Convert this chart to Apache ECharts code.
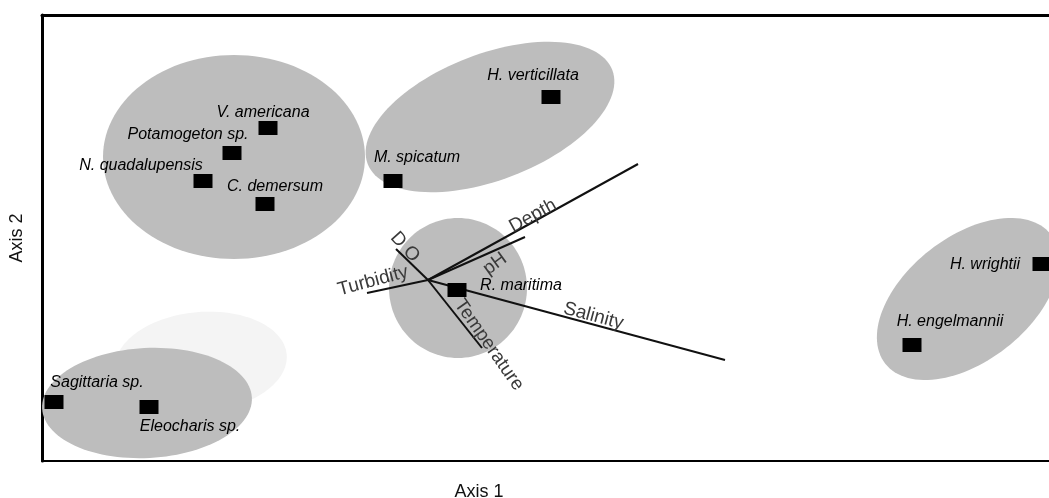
<!DOCTYPE html>
<html>
<head>
<meta charset="utf-8">
<title>Ordination biplot</title>
<script src="https://cdn.jsdelivr.net/npm/echarts@6/dist/echarts.min.js"></script>
<style>
  html, body { margin: 0; padding: 0; background: #ffffff; }
  #chart { width: 1049px; height: 498px; }
</style>
</head>
<body>
<div id="chart"></div>
<script>
// Species scores on the first two ordination axes
const speciesNames = [
  'V. americana', 'Potamogeton sp.', 'N. quadalupensis', 'C. demersum',
  'M. spicatum', 'H. verticillata', 'R. maritima',
  'Sagittaria sp.', 'Eleocharis sp.', 'H. wrightii', 'H. engelmannii'
];
const speciesAxis1 = [-1.60, -1.96, -2.25, -1.63, -0.35, 1.23, 0.29, -3.74, -2.79, 6.14, 4.84];
const speciesAxis2 = [ 1.52,  1.27,  0.99,  0.76,  0.99, 1.83, -0.10, -1.22, -1.27, 0.16, -0.65];

// Environmental variable vectors (tips; all start at the origin)
const variableNames = ['Depth', 'pH', 'D O', 'Temperature', 'Turbidity', 'Salinity'];
const variableAxis1 = [2.10, 0.97, -0.32, 0.54, -0.61, 2.97];
const variableAxis2 = [1.16, 0.43,  0.31, -0.68, -0.13, -0.80];

// Species groupings drawn as ellipses: centre, semi-axes, tilt (degrees)
const groupCentre1 = [-2.27, -1.94, 0.62, 0.30, -2.81, 5.40];
const groupCentre2 = [-0.82,  1.23, 1.63, -0.08, -1.23, -0.19];
const groupSemiA   = [ 0.86,  1.31, 1.31, 0.69, 1.05, 1.05];
const groupSemiB   = [ 0.50,  1.02, 0.63, 0.70, 0.55, 0.62];
const groupTilt    = [ 5, 0, 21, 0, 3, 38];

// Axis extents
const axis1Range = [-3.86, 6.21];
const axis2Range = [-1.81, 2.65];

// ---- presentation ----
const groupFill = ['#f4f4f4', '#bdbdbd', '#bdbdbd', '#bdbdbd', '#bdbdbd', '#bdbdbd'];

// label offsets (px) relative to each species marker
const speciesLabelOffset = {
  'V. americana': [-5, -15],
  'Potamogeton sp.': [-44, -18],
  'N. quadalupensis': [-62, -15],
  'C. demersum': [10, -17],
  'M. spicatum': [24, -23],
  'H. verticillata': [-18, -21],
  'R. maritima': [64, -4],
  'Sagittaria sp.': [43, -19],
  'Eleocharis sp.': [41, 20],
  'H. wrightii': [-57, 1],
  'H. engelmannii': [38, -23]
};

// vector labels: fraction along the arrow, pixel nudge, text angle (deg)
const vectorLabelLayout = {
  'Depth':       { t: 0.5,  dx: 0,  dy: -6,  angle: 29 },
  'pH':          { t: 0.7,  dx: -1, dy: 14,  angle: 36 },
  'D O':         { t: 1.0,  dx: 9,  dy: -2,  angle: -48 },
  'Temperature': { t: 1.0,  dx: 7,  dy: -3,  angle: -55 },
  'Turbidity':   { t: 1.0,  dx: 6,  dy: -12, angle: 15 },
  'Salinity':    { t: 0.55, dx: 2,  dy: -8,  angle: -15 }
};

const groupData = groupCentre1.map((c, i) => [c, groupCentre2[i], groupSemiA[i], groupSemiB[i], groupTilt[i], i]);
const vectorData = variableNames.map((n, i) => ({ name: n, value: [variableAxis1[i], variableAxis2[i]] }));
const speciesData = speciesNames.map((n, i) => ({
  name: n,
  value: [speciesAxis1[i], speciesAxis2[i]],
  label: { offset: speciesLabelOffset[n] }
}));

function renderGroup(params, api) {
  const cx = api.value(0), cy = api.value(1);
  const a = api.value(2), b = api.value(3);
  const tilt = api.value(4) * Math.PI / 180;
  const idx = api.value(5);
  const pts = [];
  const n = 120;
  for (let k = 0; k < n; k++) {
    const phi = 2 * Math.PI * k / n;
    const ex = a * Math.cos(phi), ey = b * Math.sin(phi);
    const x = cx + ex * Math.cos(tilt) - ey * Math.sin(tilt);
    const y = cy + ex * Math.sin(tilt) + ey * Math.cos(tilt);
    pts.push(api.coord([x, y]));
  }
  return {
    type: 'polygon',
    shape: { points: pts },
    style: { fill: groupFill[idx], stroke: null }
  };
}

function renderVector(params, api) {
  const name = variableNames[params.dataIndex];
  const o = api.coord([0, 0]);
  const e = api.coord([api.value(0), api.value(1)]);
  const lay = vectorLabelLayout[name];
  const lx = o[0] + (e[0] - o[0]) * lay.t + lay.dx;
  const ly = o[1] + (e[1] - o[1]) * lay.t + lay.dy;
  return {
    type: 'group',
    children: [
      {
        type: 'line',
        shape: { x1: o[0], y1: o[1], x2: e[0], y2: e[1] },
        style: { stroke: '#111', lineWidth: 2 }
      },
      {
        type: 'text',
        x: lx, y: ly,
        rotation: lay.angle * Math.PI / 180,
        style: {
          text: name,
          font: '19px "Liberation Sans", Arial, sans-serif',
          fill: '#3a3a3a',
          align: 'center',
          verticalAlign: 'middle'
        }
      }
    ]
  };
}

const chart = echarts.init(document.getElementById('chart'), null, { renderer: 'canvas' });

const hiddenAxisBits = {
  axisTick: { show: false },
  axisLabel: { show: false },
  splitLine: { show: false }
};

chart.setOption({
  backgroundColor: '#ffffff',
  animation: false,
  grid: { left: 42, top: 15, right: 0, bottom: 37, containLabel: false, outerBoundsMode: 'none' },
  xAxis: [
    Object.assign({
      type: 'value', position: 'bottom',
      min: axis1Range[0], max: axis1Range[1],
      axisLine: { show: true, onZero: false, lineStyle: { color: '#000', width: 2 } },
      name: 'Axis 1',
      nameLocation: 'middle',
      nameGap: 22,
      nameTextStyle: {
        fontFamily: '"Liberation Sans", Arial, sans-serif',
        fontSize: 18, color: '#111',
        padding: [0, 133, 0, 0]
      }
    }, hiddenAxisBits),
    Object.assign({
      type: 'value', position: 'top',
      min: axis1Range[0], max: axis1Range[1],
      axisLine: { show: true, onZero: false, lineStyle: { color: '#000', width: 3 } }
    }, hiddenAxisBits)
  ],
  yAxis: Object.assign({
    type: 'value',
    min: axis2Range[0], max: axis2Range[1],
    axisLine: { show: true, onZero: false, lineStyle: { color: '#000', width: 3 } },
    name: 'Axis 2',
    nameLocation: 'middle',
    nameGap: 16,
    nameRotate: 90,
    nameTextStyle: {
      fontFamily: '"Liberation Sans", Arial, sans-serif',
      fontSize: 18, color: '#111'
    }
  }, hiddenAxisBits),
  series: [
    {
      type: 'custom',
      name: 'groups',
      coordinateSystem: 'cartesian2d',
      renderItem: renderGroup,
      data: groupData,
      encode: { x: 0, y: 1 },
      clip: false,
      silent: true,
      z: 1
    },
    {
      type: 'custom',
      name: 'variables',
      coordinateSystem: 'cartesian2d',
      renderItem: renderVector,
      data: vectorData,
      encode: { x: 0, y: 1 },
      clip: false,
      silent: true,
      z: 3
    },
    {
      type: 'scatter',
      name: 'species',
      symbol: 'rect',
      symbolSize: [19, 14],
      itemStyle: { color: '#000', opacity: 1 },
      data: speciesData,
      clip: false,
      z: 4,
      label: {
        show: true,
        position: 'inside',
        formatter: '{b}',
        fontFamily: '"Liberation Sans", Arial, sans-serif',
        fontStyle: 'italic',
        fontSize: 16,
        color: '#000'
      }
    }
  ]
});
</script>
</body>
</html>
